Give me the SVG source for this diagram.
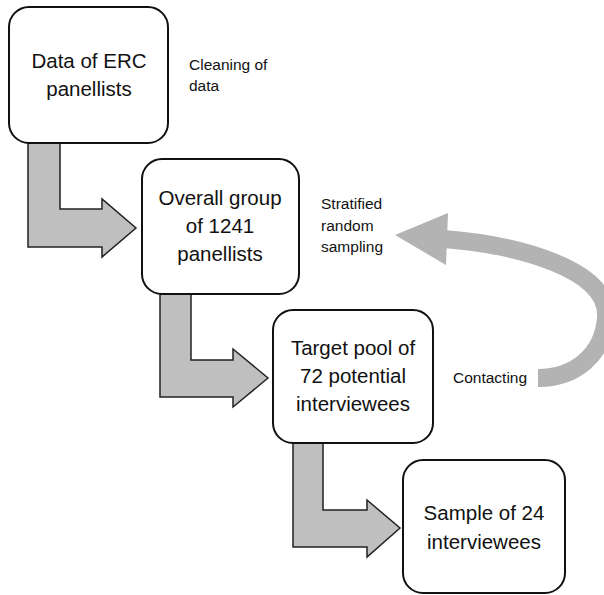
<svg xmlns="http://www.w3.org/2000/svg" width="604" height="595" viewBox="0 0 604 595">
<style>
.box{fill:#fff;stroke:#111;stroke-width:2}
.t{font-family:"Liberation Sans",Arial,sans-serif;font-size:20.5px;fill:#111;text-anchor:middle}
.l{font-family:"Liberation Sans",Arial,sans-serif;font-size:15.5px;fill:#111}
.bent{fill:#bfbfbf;stroke:#222;stroke-width:1.5;stroke-linejoin:miter}
.curve{fill:none;stroke:#b3b3b3;stroke-width:18}
</style>
<rect width="604" height="595" fill="#fff"/>
<g id="connectors">
<polygon class="bent" points="28,143 60,143 60,209 102,209 102,199 136,228 102,257 102,247 28,247"/>
<polygon class="bent" points="160,294 191,294 191,360 233,360 233,349 268,378 233,407 233,397 160,397"/>
<polygon class="bent" points="293,443 323,443 323,510 367,510 367,500 400,528 367,557 367,547 293,547"/>
<path class="curve" d="M444,239 C520,245 610,270 606,318 C603,355 575,378 538,378"/>
<polygon fill="#b3b3b3" points="395,235 448,213 446,265"/>
</g>
<g id="label-cleaning">
<text class="l" x="189" y="70">Cleaning of</text>
<text class="l" x="189" y="91">data</text>
</g>
<g id="label-stratified">
<text class="l" x="321" y="209">Stratified</text>
<text class="l" x="321" y="231">random</text>
<text class="l" x="321" y="252">sampling</text>
</g>
<g id="label-contacting">
<text class="l" x="453" y="383">Contacting</text>
</g>
<g id="node1">
<rect class="box" x="9" y="7" width="159" height="136" rx="20"/>
<text class="t" x="89" y="68">Data of ERC</text>
<text class="t" x="89" y="96">panellists</text>
</g>
<g id="node2">
<rect class="box" x="142" y="159" width="157" height="135" rx="20"/>
<text class="t" x="220" y="205">Overall group</text>
<text class="t" x="220" y="233">of 1241</text>
<text class="t" x="220" y="261">panellists</text>
</g>
<g id="node3">
<rect class="box" x="273" y="310" width="160" height="133" rx="20"/>
<text class="t" x="353" y="355">Target pool of</text>
<text class="t" x="353" y="383">72 potential</text>
<text class="t" x="353" y="411">interviewees</text>
</g>
<g id="node4">
<rect class="box" x="403" y="460" width="162" height="133" rx="20"/>
<text class="t" x="484" y="520">Sample of 24</text>
<text class="t" x="484" y="549">interviewees</text>
</g>
</svg>
